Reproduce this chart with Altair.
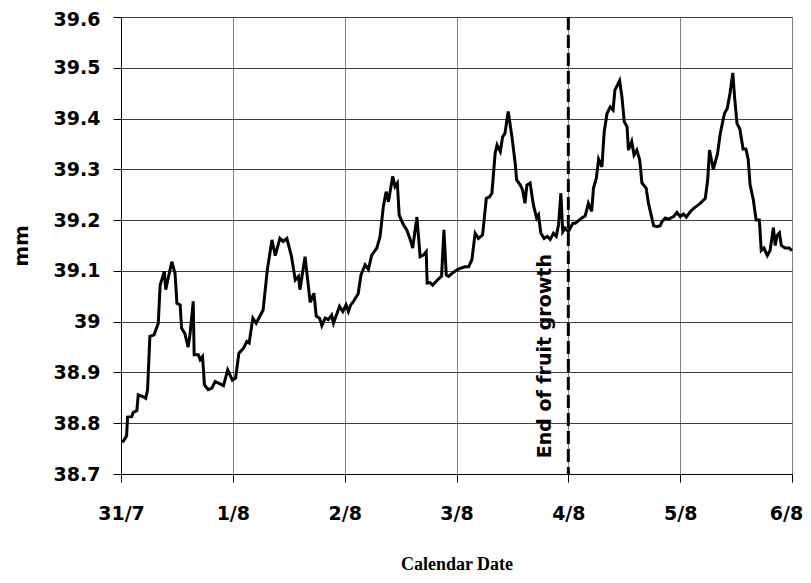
import altair as alt
import pandas as pd

# ---------------- data ----------------
day_labels = ["31/7", "1/8", "2/8", "3/8", "4/8", "5/8", "6/8"]
day_ticks_hours = [0, 24, 48, 72, 96, 120, 144]
y_ticks = [38.7, 38.8, 38.9, 39.0, 39.1, 39.2, 39.3, 39.4, 39.5, 39.6]

hours = [
    0.3, 1.2, 1.4, 2.3, 2.6, 3.4, 3.7, 4.8, 5.3, 5.7,
    6.2, 7.1, 8.0, 8.4, 9.3, 9.6, 10.9, 11.6, 12.0, 12.7,
    13.0, 13.7, 14.4, 14.8, 15.5, 15.7, 16.6, 17.0, 17.5, 17.9,
    18.7, 19.5, 20.2, 20.9, 22.0, 22.9, 23.9, 24.6, 25.3, 26.3,
    27.0, 27.5, 28.3, 29.0, 30.5, 31.4, 32.4, 33.1, 34.1, 34.8,
    35.6, 36.6, 37.4, 38.1, 38.4, 39.5, 40.6, 41.4, 41.9, 42.6,
    43.1, 43.8, 44.5, 45.2, 45.6, 46.9, 47.6, 48.3, 48.8, 49.3,
    49.9, 50.9, 51.5, 52.4, 53.1, 53.8, 54.9, 55.6, 56.3, 56.9,
    57.4, 58.3, 58.8, 59.3, 59.7, 60.6, 61.3, 62.0, 62.6, 63.5,
    64.2, 64.9, 65.5, 65.7, 66.3, 66.9, 67.8, 68.8, 69.3, 69.8,
    70.3, 71.3, 72.1, 72.8, 73.8, 74.6, 75.3, 76.0, 76.7, 77.6,
    78.4, 79.1, 79.6, 80.3, 80.7, 81.4, 81.9, 82.4, 83.1, 83.9,
    84.6, 84.9, 85.7, 86.2, 86.7, 87.1, 87.8, 88.5, 89.2, 89.6,
    90.1, 90.8, 91.5, 92.1, 92.8, 93.4, 93.9, 94.4, 94.8, 95.3,
    96.0, 97.0, 97.5, 98.2, 98.9, 99.6, 100.3, 101.0, 101.4, 102.0,
    102.5, 103.2, 103.7, 104.3, 105.0, 105.6, 106.0, 107.0, 107.5, 108.0,
    108.6, 108.9, 109.6, 110.1, 110.7, 111.3, 111.8, 112.7, 113.2, 114.3,
    115.0, 115.7, 116.1, 116.8, 117.5, 118.6, 119.3, 120.0, 120.7, 121.3,
    122.2, 122.9, 123.9, 124.3, 125.4, 125.9, 126.3, 127.1, 128.0, 128.6,
    129.5, 130.1, 130.7, 131.3, 131.7, 132.2, 132.8, 133.5, 134.1, 134.6,
    135.0, 135.7, 136.3, 137.0, 137.4, 138.0, 138.7, 139.3, 140.0, 140.4,
    140.8, 141.3, 141.7, 142.5, 143.4, 144.0,
]

diameter_mm = [
    38.762, 38.775, 38.812, 38.813, 38.821, 38.825, 38.856, 38.852, 38.849, 38.866,
    38.971, 38.974, 38.997, 39.072, 39.099, 39.063, 39.118, 39.095, 39.036, 39.033,
    38.987, 38.977, 38.950, 38.974, 39.040, 38.935, 38.935, 38.925, 38.931, 38.876,
    38.866, 38.869, 38.882, 38.879, 38.874, 38.905, 38.885, 38.889, 38.938, 38.948,
    38.961, 38.958, 39.007, 38.997, 39.023, 39.102, 39.161, 39.130, 39.164, 39.158,
    39.164, 39.128, 39.082, 39.089, 39.063, 39.128, 39.038, 39.056, 39.011, 39.007,
    38.992, 39.007, 39.004, 39.013, 38.997, 39.030, 39.020, 39.033, 39.020, 39.033,
    39.040, 39.055, 39.092, 39.112, 39.103, 39.131, 39.145, 39.168, 39.227, 39.256,
    39.236, 39.286, 39.266, 39.273, 39.210, 39.191, 39.181, 39.164, 39.145, 39.206,
    39.128, 39.131, 39.138, 39.076, 39.077, 39.072, 39.081, 39.090, 39.181, 39.092,
    39.089, 39.097, 39.102, 39.105, 39.108, 39.108, 39.122, 39.174, 39.164, 39.171,
    39.243, 39.246, 39.253, 39.332, 39.348, 39.335, 39.364, 39.371, 39.414, 39.364,
    39.312, 39.279, 39.269, 39.259, 39.233, 39.269, 39.273, 39.230, 39.204, 39.210,
    39.174, 39.164, 39.168, 39.162, 39.174, 39.168, 39.191, 39.253, 39.177, 39.184,
    39.177, 39.194, 39.194, 39.199, 39.204, 39.208, 39.233, 39.217, 39.263, 39.282,
    39.320, 39.305, 39.374, 39.410, 39.423, 39.417, 39.456, 39.475, 39.443, 39.394,
    39.384, 39.338, 39.355, 39.328, 39.338, 39.319, 39.273, 39.263, 39.233, 39.189,
    39.187, 39.189, 39.197, 39.204, 39.202, 39.207, 39.215, 39.207, 39.212, 39.206,
    39.217, 39.223, 39.230, 39.233, 39.243, 39.279, 39.338, 39.300, 39.330, 39.370,
    39.410, 39.420, 39.450, 39.490, 39.440, 39.390, 39.380, 39.340, 39.340, 39.320,
    39.270, 39.240, 39.200, 39.200, 39.140, 39.145, 39.130, 39.140, 39.185, 39.150,
    39.170, 39.175, 39.150, 39.145, 39.145, 39.140,
]

event_hour = [96]
event_label = ["End of fruit growth"]
event_label_hour = [91]
event_label_mm = [38.932]

# ---------------- chart ----------------
df = pd.DataFrame({"hour": hours, "mm": diameter_mm})
df_event = pd.DataFrame({"hour": event_hour})
df_label = pd.DataFrame({"hour": event_label_hour, "mm": event_label_mm, "t": event_label})

x_scale = alt.Scale(domain=[0, 144], nice=False, zero=False)
y_scale = alt.Scale(domain=[38.7, 39.6], nice=False, zero=False)

label_expr = "[" + ",".join("'%s'" % d for d in day_labels) + "][round(datum.value / 24)]"

x_axis = alt.Axis(
    values=day_ticks_hours,
    labelExpr=label_expr,
    title="Calendar Date",
    titleFont="Liberation Serif",
    titleFontWeight="bold",
    titleFontSize=18,
    titleColor="black",
    titleY=90,
    titleBaseline="middle",
    labelFont="DejaVu Sans",
    labelFontWeight="bold",
    labelFontSize=19,
    labelColor="black",
    labelPadding=22,
    labelFlush=False,
    labelOverlap=False,
    labelOffset={"condition": {"test": "datum.value == 144", "value": -6}, "value": 0},
    tickSize=8,
    tickColor="black",
    domainColor="black",
    domainWidth=1,
    gridColor="#808080",
    gridWidth=1,
    gridOpacity=1,
)

y_axis = alt.Axis(
    values=y_ticks,
    format=".3~r",
    title="mm",
    titleFont="DejaVu Sans",
    titleFontWeight="bold",
    titleFontSize=20,
    titleColor="black",
    titleAngle=270,
    titleX=-100,
    titleBaseline="middle",
    titleAlign="center",
    labelFont="DejaVu Sans",
    labelFontWeight="bold",
    labelFontSize=19,
    labelColor="black",
    labelPadding=13,
    labelOverlap=False,
    labelFlush=False,
    labelOffset={"condition": {"test": "datum.value > 39.55", "value": 2}, "value": 0},
    tickSize=8,
    tickColor="black",
    domainColor="black",
    domainWidth=1,
    gridColor="#404040",
    gridWidth=1,
    gridOpacity=1,
)

x_enc = alt.X("hour:Q", scale=x_scale, axis=x_axis)
y_enc = alt.Y("mm:Q", scale=y_scale, axis=y_axis)

line = alt.Chart(df).mark_line(color="black", strokeWidth=3).encode(x=x_enc, y=y_enc)

rule = alt.Chart(df_event).mark_rule(color="black", strokeWidth=3, strokeDash=[13, 5]).encode(x=x_enc)

text = alt.Chart(df_label).mark_text(
    angle=270,
    font="DejaVu Sans",
    fontWeight="bold",
    fontSize=19,
    align="center",
    baseline="middle",
    color="black",
).encode(x=x_enc, y=y_enc, text="t:N")

chart = alt.layer(line, rule, text).properties(
    width=671,
    height=457,
    padding={"left": 113, "top": 9, "right": 11, "bottom": 100},
    autosize=alt.AutoSizeParams(type="none"),
    background="white",
).configure_view(stroke=None)

chart.save("out.html", embed_options={"renderer": "svg", "actions": False})
